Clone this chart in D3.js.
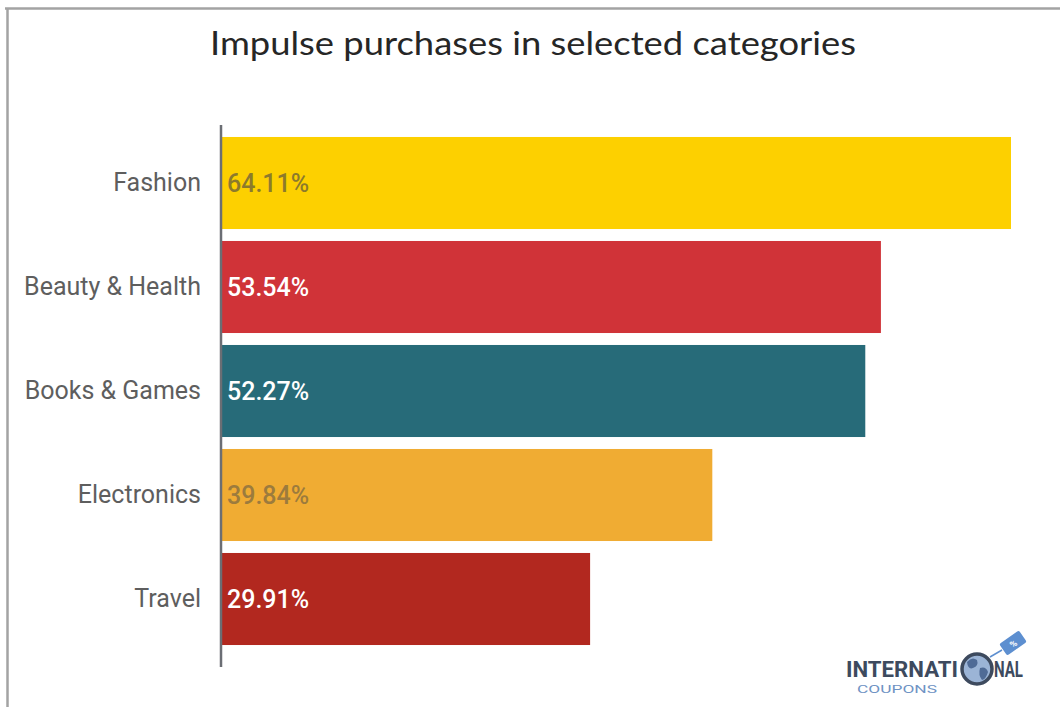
<!DOCTYPE html>
<html>
<head>
<meta charset="utf-8">
<script src="https://cdn.jsdelivr.net/npm/d3@7"></script>
<style>
  html, body { margin: 0; padding: 0; background: #ffffff; }
  svg { display: block; }
</style>
</head>
<body>
<svg id="chart" width="1060" height="707"></svg>
<script>
// Share of shoppers making impulse purchases, by category (%)
const categories = ["Fashion", "Beauty & Health", "Books & Games", "Electronics", "Travel"];
const values = [64.11, 53.54, 52.27, 39.84, 29.91];
const valueLabels = ["64.11%", "53.54%", "52.27%", "39.84%", "29.91%"];

// Bar fills and the ink used for the value printed inside each bar
const barColors = ["#fdd000", "#d03338", "#276b79", "#f0ac33", "#b2281f"];
const labelInk = ["#8c7a2c", "#ffffff", "#ffffff", "#9c7b3d", "#ffffff"];

const svg = d3.select("#chart");
const W = 1060, H = 707;

// Frame lines along the top and left edges
svg.append("line").attr("x1", 5).attr("x2", W).attr("y1", 8.5).attr("y2", 8.5)
  .attr("stroke", "#a3a3a3").attr("stroke-width", 2.5);
svg.append("line").attr("x1", 7.5).attr("x2", 7.5).attr("y1", 8).attr("y2", H)
  .attr("stroke", "#a3a3a3").attr("stroke-width", 2.5);

// Title
svg.append("text")
  .attr("x", 533).attr("y", 55)
  .attr("text-anchor", "middle")
  .attr("font-family", "Lato, 'Open Sans', sans-serif")
  .attr("font-size", 32)
  .attr("fill", "#262626")
  .attr("textLength", 646)
  .attr("lengthAdjust", "spacingAndGlyphs")
  .text("Impulse purchases in selected categories");

const x = d3.scaleLinear().domain([0, 64.11]).range([222, 1011]);
const y = d3.scaleBand().domain(categories).range([131, 651]).paddingInner(0.115).paddingOuter(0.0575);

const labelFont = "Roboto, sans-serif";

// Bars
svg.append("g").selectAll("rect")
  .data(categories)
  .join("rect")
  .attr("x", x(0))
  .attr("y", d => y(d))
  .attr("width", (d, i) => x(values[i]) - x(0))
  .attr("height", y.bandwidth())
  .attr("fill", (d, i) => barColors[i]);

// Category axis on the left
const axis = svg.append("g")
  .attr("transform", `translate(${x(0) - 1},0)`)
  .call(d3.axisLeft(y).tickSize(0).tickPadding(20));
axis.select(".domain").remove();
axis.selectAll("text")
  .attr("font-family", labelFont)
  .attr("font-size", 25)
  .attr("fill", "#5e5e5e");

// Axis rule, running slightly past the outer bars
svg.append("line")
  .attr("x1", x(0) - 1).attr("x2", x(0) - 1)
  .attr("y1", 125).attr("y2", 667)
  .attr("stroke", "#6b6e74").attr("stroke-width", 2.5);

// Values printed inside the bars
svg.append("g").selectAll("text")
  .data(categories)
  .join("text")
  .attr("x", x(0) + 5)
  .attr("y", d => y(d) + y.bandwidth() / 2)
  .attr("dy", "0.35em")
  .attr("font-family", labelFont)
  .attr("font-size", 25)
  .attr("font-weight", 500)
  .attr("fill", (d, i) => labelInk[i])
  .text((d, i) => valueLabels[i]);

// Brand mark, lower right
const logo = svg.append("g");
logo.append("text")
  .attr("x", 846).attr("y", 677)
  .attr("font-family", "Roboto, sans-serif")
  .attr("font-weight", "bold")
  .attr("font-size", 22)
  .attr("fill", "#3d4a5e")
  .attr("textLength", 112)
  .attr("lengthAdjust", "spacingAndGlyphs")
  .text("INTERNATI");
logo.append("text")
  .attr("x", 994).attr("y", 677)
  .attr("font-family", "Roboto, sans-serif")
  .attr("font-weight", "bold")
  .attr("font-size", 22)
  .attr("fill", "#3d4a5e")
  .attr("textLength", 29)
  .attr("lengthAdjust", "spacingAndGlyphs")
  .text("NAL");
logo.append("text")
  .attr("x", 857).attr("y", 693)
  .attr("font-family", "Roboto, sans-serif")
  .attr("font-size", 10)
  .attr("fill", "#6f93c4")
  .attr("textLength", 80)
  .attr("lengthAdjust", "spacingAndGlyphs")
  .text("COUPONS");
// Globe in place of the "O"
logo.append("circle").attr("cx", 977).attr("cy", 669).attr("r", 15)
  .attr("fill", "#9bb4d6").attr("stroke", "#3d4a5e").attr("stroke-width", 3.5);
logo.append("path")
  .attr("d", "M967,662 q5,-6 10,-2 q2,6 -4,8 q-5,2 -6,-6 Z M980,668 q6,-2 8,4 q-2,7 -6,8 q-4,-5 -2,-12 Z")
  .attr("fill", "#4f6b96");
// Price tag above the globe
logo.append("g")
  .attr("transform", "translate(1013,643) rotate(-35)")
  .call(g => {
    g.append("rect").attr("x", -12).attr("y", -7).attr("width", 24).attr("height", 14)
      .attr("rx", 2).attr("fill", "#5d8fd0");
    g.append("text").attr("x", 0).attr("y", 4).attr("text-anchor", "middle")
      .attr("font-family", "Roboto, sans-serif").attr("font-size", 9)
      .attr("font-weight", "bold").attr("fill", "#ffffff").text("%");
  });
logo.append("line").attr("x1", 990).attr("y1", 657).attr("x2", 1002).attr("y2", 650)
  .attr("stroke", "#5d8fd0").attr("stroke-width", 1.5);
</script>
</body>
</html>
